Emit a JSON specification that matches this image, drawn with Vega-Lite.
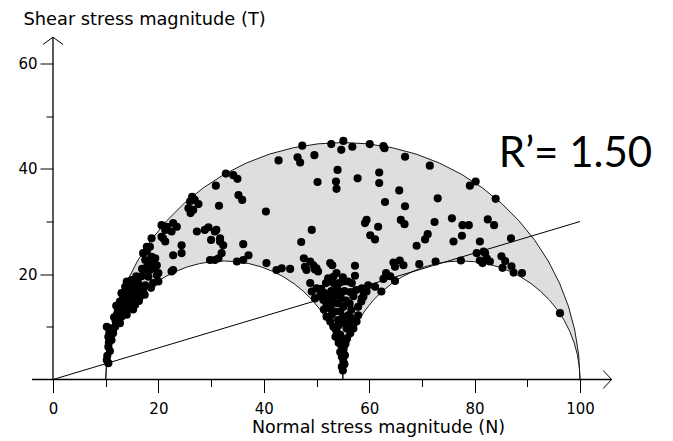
{
  "$schema": "https://vega.github.io/schema/vega-lite/v6.json",
  "width": 527,
  "height": 316,
  "autosize": {"type": "none"},
  "padding": {"left": 53, "top": 63.5, "right": 93, "bottom": 61.5},
  "background": "white",
  "config": {"view": {"stroke": null}},
  "datasets": {
    "bigc": [
      {"x": 100, "y": 0}, {"x": 99.75, "y": 4.70}, {"x": 99.01, "y": 9.36}, {"x": 97.80, "y": 13.91}, {"x": 96.11, "y": 18.30}, {"x": 93.97, "y": 22.50}, {"x": 91.41, "y": 26.45}, {"x": 88.44, "y": 30.11}, {"x": 85.11, "y": 33.44}, {"x": 81.45, "y": 36.41}, {"x": 77.50, "y": 38.97}, {"x": 73.30, "y": 41.11}, {"x": 68.91, "y": 42.80}, {"x": 64.36, "y": 44.01}, {"x": 59.70, "y": 44.75}, {"x": 55, "y": 45},
      {"x": 50.30, "y": 44.75}, {"x": 45.64, "y": 44.01}, {"x": 41.09, "y": 42.80}, {"x": 36.70, "y": 41.11}, {"x": 32.50, "y": 38.97}, {"x": 28.55, "y": 36.41}, {"x": 24.89, "y": 33.44}, {"x": 21.56, "y": 30.11}, {"x": 18.59, "y": 26.45}, {"x": 16.03, "y": 22.50}, {"x": 13.89, "y": 18.30}, {"x": 12.20, "y": 13.91}, {"x": 10.99, "y": 9.36}, {"x": 10.25, "y": 4.70}, {"x": 10, "y": 0}
    ],
    "smallc": [
      {"c": "L", "x": 55, "y": 0}, {"c": "L", "x": 54.88, "y": 2.35}, {"c": "L", "x": 54.51, "y": 4.68}, {"c": "L", "x": 53.90, "y": 6.95}, {"c": "L", "x": 53.05, "y": 9.15}, {"c": "L", "x": 51.99, "y": 11.25}, {"c": "L", "x": 50.70, "y": 13.23}, {"c": "L", "x": 49.22, "y": 15.06}, {"c": "L", "x": 47.56, "y": 16.72}, {"c": "L", "x": 45.73, "y": 18.20}, {"c": "L", "x": 43.75, "y": 19.49}, {"c": "L", "x": 41.65, "y": 20.55}, {"c": "L", "x": 39.45, "y": 21.40}, {"c": "L", "x": 37.18, "y": 22.01}, {"c": "L", "x": 34.85, "y": 22.38}, {"c": "L", "x": 32.5, "y": 22.5},
      {"c": "L", "x": 30.15, "y": 22.38}, {"c": "L", "x": 27.82, "y": 22.01}, {"c": "L", "x": 25.55, "y": 21.40}, {"c": "L", "x": 23.35, "y": 20.55}, {"c": "L", "x": 21.25, "y": 19.49}, {"c": "L", "x": 19.27, "y": 18.20}, {"c": "L", "x": 17.44, "y": 16.72}, {"c": "L", "x": 15.78, "y": 15.06}, {"c": "L", "x": 14.30, "y": 13.23}, {"c": "L", "x": 13.01, "y": 11.25}, {"c": "L", "x": 11.95, "y": 9.15}, {"c": "L", "x": 11.10, "y": 6.95}, {"c": "L", "x": 10.49, "y": 4.68}, {"c": "L", "x": 10.12, "y": 2.35}, {"c": "L", "x": 10, "y": 0},
      {"c": "R", "x": 100, "y": 0}, {"c": "R", "x": 99.88, "y": 2.35}, {"c": "R", "x": 99.51, "y": 4.68}, {"c": "R", "x": 98.90, "y": 6.95}, {"c": "R", "x": 98.05, "y": 9.15}, {"c": "R", "x": 96.99, "y": 11.25}, {"c": "R", "x": 95.70, "y": 13.23}, {"c": "R", "x": 94.22, "y": 15.06}, {"c": "R", "x": 92.56, "y": 16.72}, {"c": "R", "x": 90.73, "y": 18.20}, {"c": "R", "x": 88.75, "y": 19.49}, {"c": "R", "x": 86.65, "y": 20.55}, {"c": "R", "x": 84.45, "y": 21.40}, {"c": "R", "x": 82.18, "y": 22.01}, {"c": "R", "x": 79.85, "y": 22.38}, {"c": "R", "x": 77.5, "y": 22.5},
      {"c": "R", "x": 75.15, "y": 22.38}, {"c": "R", "x": 72.82, "y": 22.01}, {"c": "R", "x": 70.55, "y": 21.40}, {"c": "R", "x": 68.35, "y": 20.55}, {"c": "R", "x": 66.25, "y": 19.49}, {"c": "R", "x": 64.27, "y": 18.20}, {"c": "R", "x": 62.44, "y": 16.72}, {"c": "R", "x": 60.78, "y": 15.06}, {"c": "R", "x": 59.30, "y": 13.23}, {"c": "R", "x": 58.01, "y": 11.25}, {"c": "R", "x": 56.95, "y": 9.15}, {"c": "R", "x": 56.10, "y": 6.95}, {"c": "R", "x": 55.49, "y": 4.68}, {"c": "R", "x": 55.12, "y": 2.35}, {"c": "R", "x": 55, "y": 0}
    ],
    "seg": [{"x": 0, "y": 0}, {"x": 100, "y": 30}],
    "axes": [{"x": -4, "x2": 106, "y": 0, "y2": 0}, {"x": 0, "x2": 0, "y": 0, "y2": 65}],
    "yarrow": [{"x": 0, "y": 65}],
    "xarrow": [{"x": 106, "y": 0}],
    "lbl": [{"x": 84.6, "y": 40.4, "label": "R’= 1.50"}],
    "pts": [
      {"x":47.3,"y":44.4},{"x":52.8,"y":44.7},{"x":55.1,"y":45.3},{"x":54.7,"y":43.6},{"x":56.8,"y":44.2},{"x":42.8,"y":41.6},{"x":46.4,"y":42.2},{"x":46.9,"y":41.2},{"x":49.6,"y":42.6},{"x":54.0,"y":39.8},{"x":50.2,"y":37.5},{"x":53.7,"y":37.6},{"x":53.8,"y":36.2},{"x":32.8,"y":39.1},{"x":34.2,"y":38.8},{"x":35.0,"y":38.1},{"x":30.9,"y":36.8},{"x":35.2,"y":35.0},{"x":35.9,"y":34.1},{"x":31.5,"y":33.0},{"x":40.4,"y":31.9},{"x":26.4,"y":34.7},{"x":26.0,"y":33.8},{"x":27.6,"y":33.3},{"x":25.7,"y":32.5},{"x":26.1,"y":31.6},{"x":26.9,"y":34.1},{"x":26.6,"y":32.2},{"x":60.1,"y":44.7},{"x":62.7,"y":44.3},{"x":62.9,"y":43.9},{"x":66.8,"y":42.3},{"x":71.5,"y":40.6},{"x":79.1,"y":36.8},{"x":80.2,"y":37.6},{"x":84.0,"y":34.3},{"x":57.8,"y":38.2},{"x":61.9,"y":39.3},{"x":61.9,"y":37.3},{"x":65.7,"y":35.9},{"x":63.0,"y":33.7},{"x":66.8,"y":32.9},{"x":73.0,"y":34.4},
      {"x":49.1,"y":28.4},{"x":47.1,"y":26.1},{"x":36.1,"y":25.7},{"x":31.0,"y":28.4},{"x":31.7,"y":26.8},{"x":32.3,"y":25.5},{"x":59.5,"y":30.3},{"x":59.2,"y":29.7},{"x":61.7,"y":29.0},{"x":60.2,"y":27.4},{"x":61.1,"y":26.6},{"x":66.0,"y":30.3},{"x":66.7,"y":29.5},{"x":72.4,"y":29.9},{"x":71.1,"y":27.6},{"x":70.6,"y":26.6},{"x":75.7,"y":30.6},{"x":69.0,"y":25.4},{"x":76.0,"y":26.2},{"x":77.7,"y":29.3},{"x":78.9,"y":29.3},{"x":77.6,"y":27.3},{"x":82.5,"y":30.4},{"x":83.7,"y":29.3},{"x":81.0,"y":26.2},{"x":86.9,"y":26.8},
      {"x":64.6,"y":22.2},{"x":65.8,"y":22.6},{"x":66.5,"y":21.7},{"x":64.9,"y":21.4},{"x":69.5,"y":21.9},{"x":72.6,"y":22.4},{"x":77.4,"y":22.6},{"x":81.0,"y":22.6},{"x":82.0,"y":24.0},{"x":82.3,"y":23.0},{"x":82.9,"y":22.4},{"x":81.5,"y":22.1},{"x":80.4,"y":24.0},{"x":81.7,"y":24.3},{"x":85.1,"y":23.4},{"x":85.8,"y":22.5},{"x":85.3,"y":21.2},{"x":87.0,"y":21.5},{"x":87.4,"y":20.3},{"x":89.0,"y":20.2},{"x":96.2,"y":12.6},{"x":63.2,"y":20.2},{"x":64.0,"y":19.6},{"x":62.7,"y":19.1},{"x":64.9,"y":18.7},{"x":61.1,"y":17.6},{"x":62.3,"y":16.7},{"x":52.6,"y":22.1},{"x":58.9,"y":16.7},{"x":58.6,"y":15.4},
      {"x":47.6,"y":23.0},{"x":48.8,"y":22.4},{"x":47.8,"y":21.4},{"x":49.4,"y":21.7},{"x":50.0,"y":21.1},{"x":50.3,"y":20.5},{"x":45.0,"y":21.0},{"x":43.4,"y":21.1},{"x":53.0,"y":21.7},{"x":57.3,"y":21.6},{"x":52.2,"y":19.2},{"x":53.2,"y":18.3},{"x":51.8,"y":18.3},{"x":54.3,"y":18.3},{"x":55.0,"y":19.4},{"x":56.0,"y":18.6},{"x":57.3,"y":19.7},{"x":56.7,"y":18.3},{"x":48.8,"y":18.3},{"x":49.1,"y":16.7},{"x":50.0,"y":17.3},{"x":50.7,"y":16.0},{"x":49.7,"y":15.4},{"x":51.3,"y":15.1},{"x":51.9,"y":14.2},{"x":52.6,"y":13.5},{"x":53.2,"y":14.5},{"x":54.1,"y":14.5},{"x":53.5,"y":12.9},{"x":58.6,"y":17.3},{"x":58.9,"y":15.7},{"x":59.5,"y":16.7},{"x":59.8,"y":17.9},{"x":57.9,"y":12.2},{"x":57.6,"y":11.0},{"x":57.0,"y":9.7},{"x":56.4,"y":8.8},{"x":51.9,"y":11.9},{"x":52.6,"y":11.0},{"x":53.2,"y":10.0},{"x":53.8,"y":9.4},{"x":54.5,"y":8.5},{"x":55.4,"y":10.7},{"x":55.7,"y":9.7},{"x":54.8,"y":7.5},{"x":54.8,"y":6.2},{"x":55.1,"y":5.6},{"x":54.8,"y":4.3},{"x":55.1,"y":3.4},{"x":54.8,"y":2.4},{"x":55.0,"y":1.7},{"x":56.0,"y":12.2},{"x":56.6,"y":13.2},{"x":54.5,"y":12.9},{"x":55.1,"y":13.8},{"x":54.1,"y":11.3},{"x":57.9,"y":13.8},{"x":58.5,"y":14.8},{"x":53.8,"y":20.2},{"x":55.1,"y":18.6},{"x":48.1,"y":20.8},{"x":49.7,"y":20.9},{"x":53.2,"y":19.5},{"x":40.5,"y":22.1},{"x":42.4,"y":20.8},
      {"x":50.9,"y":17.2},{"x":51.5,"y":16.4},{"x":52.3,"y":15.6},{"x":52.9,"y":15.2},{"x":53.6,"y":15.9},{"x":54.6,"y":15.6},{"x":55.6,"y":15.0},{"x":56.3,"y":14.4},{"x":57.0,"y":15.8},{"x":57.5,"y":17.0},{"x":56.4,"y":16.6},{"x":55.3,"y":16.8},{"x":53.9,"y":17.2},{"x":52.8,"y":16.8},{"x":51.4,"y":13.3},{"x":55.0,"y":11.9},{"x":54.2,"y":10.3},{"x":56.4,"y":10.8},{"x":55.8,"y":7.8},{"x":54.2,"y":7.0},{"x":55.5,"y":6.8},{"x":54.5,"y":5.2},{"x":55.4,"y":4.6},{"x":55.3,"y":2.9},{"x":53.6,"y":8.1},{"x":56.5,"y":11.7},{"x":52.9,"y":12.3},{"x":53.9,"y":16.4},
      {"x":34.9,"y":22.4},{"x":36.1,"y":22.7},{"x":37.1,"y":23.6},{"x":29.8,"y":22.7},{"x":30.7,"y":22.7},{"x":31.4,"y":23.0},{"x":27.3,"y":28.1},{"x":29.5,"y":28.9},{"x":30.7,"y":28.1},{"x":30.0,"y":26.5},{"x":31.7,"y":26.2},{"x":32.0,"y":24.0},{"x":22.8,"y":23.6},{"x":24.4,"y":24.0},{"x":24.4,"y":25.5},{"x":22.5,"y":20.5},{"x":20.6,"y":29.3},{"x":21.6,"y":29.0},{"x":22.8,"y":29.7},{"x":23.5,"y":29.0},{"x":22.5,"y":28.1},{"x":20.9,"y":26.8},{"x":21.3,"y":28.4},{"x":28.8,"y":28.4},{"x":18.7,"y":26.8},{"x":20.6,"y":27.1},{"x":21.3,"y":26.2},{"x":17.8,"y":25.2},
      {"x":18.4,"y":25.2},{"x":17.8,"y":24.3},{"x":17.1,"y":24.0},{"x":17.5,"y":22.7},{"x":18.7,"y":23.3},{"x":19.0,"y":22.1},{"x":18.4,"y":20.8},{"x":19.4,"y":21.1},{"x":19.7,"y":19.8},{"x":20.0,"y":18.6},{"x":19.0,"y":18.3},{"x":18.1,"y":19.5},{"x":14.0,"y":18.6},{"x":15.2,"y":17.9},{"x":16.5,"y":17.6},{"x":17.1,"y":16.7},{"x":15.9,"y":16.7},{"x":14.9,"y":17.0},{"x":13.7,"y":17.6},{"x":19.4,"y":23.0},{"x":19.7,"y":21.7},{"x":22.8,"y":20.8},{"x":20.0,"y":20.2},{"x":14.9,"y":18.9},{"x":15.9,"y":18.3},{"x":16.8,"y":17.3},{"x":17.5,"y":17.9},{"x":16.2,"y":17.0},{"x":13.0,"y":16.4},{"x":14.3,"y":15.7},{"x":15.6,"y":16.0},{"x":16.5,"y":15.7},{"x":12.7,"y":14.8},{"x":13.7,"y":14.5},{"x":14.6,"y":14.5},{"x":12.4,"y":13.5},{"x":13.3,"y":13.2},{"x":14.3,"y":13.5},{"x":12.1,"y":12.3},{"x":13.0,"y":11.9},{"x":14.0,"y":12.3},{"x":12.1,"y":11.3},{"x":12.7,"y":10.7},{"x":11.8,"y":10.0},{"x":10.8,"y":9.7},{"x":11.4,"y":8.8},{"x":10.5,"y":8.1},{"x":11.1,"y":7.5},{"x":10.5,"y":6.2},{"x":10.2,"y":3.7},{"x":10.5,"y":3.1},{"x":10.2,"y":10.0},{"x":15.2,"y":15.1},{"x":15.6,"y":14.2},
      {"x":11.6,"y":11.8},{"x":12.3,"y":12.9},{"x":12.9,"y":13.9},{"x":13.5,"y":15.4},{"x":14.1,"y":16.5},{"x":13.2,"y":15.2},{"x":12.0,"y":14.0},{"x":14.6,"y":16.8},{"x":15.4,"y":17.5},{"x":16.1,"y":18.5},{"x":16.8,"y":19.6},{"x":17.3,"y":20.8},{"x":17.9,"y":21.6},{"x":18.2,"y":22.5},{"x":16.9,"y":21.0},{"x":15.8,"y":19.6},{"x":14.7,"y":14.0},{"x":13.6,"y":12.9},{"x":12.6,"y":12.2},{"x":11.9,"y":11.0},{"x":11.3,"y":9.3},{"x":11.0,"y":8.6},{"x":10.6,"y":7.0},{"x":10.8,"y":5.4},{"x":10.3,"y":4.5},{"x":10.7,"y":9.0},{"x":15.2,"y":13.3},{"x":16.3,"y":14.9},{"x":17.4,"y":16.1},{"x":18.6,"y":17.4}
    ]
  },
  "encoding": {
    "x": {
      "field": "x", "type": "quantitative",
      "scale": {"domain": [0, 100], "nice": false, "zero": false},
      "axis": {
        "values": [0, 10, 20, 30, 40, 50, 60, 70, 80, 90, 100],
        "domain": false, "grid": false,
        "tickColor": "#000", "tickWidth": 1,
        "tickSize": {"condition": {"test": "datum.value % 20 === 0", "value": 13}, "value": 7},
        "labelExpr": "datum.value % 20 === 0 ? datum.label : ''",
        "labelFont": "DejaVu Sans", "labelFontSize": 15, "labelColor": "#000",
        "labelPadding": 9, "labelFlush": false, "labelOverlap": false,
        "title": "Normal stress magnitude (N)",
        "titleFont": "DejaVu Sans", "titleFontSize": 17.5, "titleFontWeight": "normal", "titleColor": "#000",
        "titleX": 325, "titleY": 52.5, "titleAlign": "center", "titleBaseline": "alphabetic"
      }
    },
    "y": {
      "field": "y", "type": "quantitative", "stack": null,
      "scale": {"domain": [0, 60], "nice": false, "zero": false},
      "axis": {
        "values": [10, 20, 30, 40, 50, 60],
        "domain": false, "grid": false,
        "tickColor": "#000", "tickWidth": 1,
        "tickSize": {"condition": {"test": "datum.value % 20 === 0", "value": 13}, "value": 7},
        "labelExpr": "datum.value % 20 === 0 ? datum.label : ''",
        "labelFont": "DejaVu Sans", "labelFontSize": 15, "labelColor": "#000",
        "labelPadding": 3, "labelFlush": false, "labelOverlap": false,
        "title": "Shear stress magnitude (T)",
        "titleFont": "DejaVu Sans", "titleFontSize": 17.8, "titleFontWeight": "normal", "titleColor": "#000",
        "titleAngle": 0, "titleX": -30, "titleY": -39.5, "titleAlign": "left", "titleBaseline": "alphabetic"
      }
    }
  },
  "layer": [
    {"data": {"name": "bigc"}, "mark": {"type": "area", "color": "#dedede", "opacity": 1}, "encoding": {}},
    {"data": {"name": "smallc"}, "mark": {"type": "area", "color": "#ffffff", "opacity": 1}, "encoding": {"detail": {"field": "c"}}},
    {"data": {"name": "bigc"}, "mark": {"type": "line", "color": "#1a1a1a", "strokeWidth": 1}, "encoding": {}},
    {"data": {"name": "smallc"}, "mark": {"type": "line", "color": "#1a1a1a", "strokeWidth": 1}, "encoding": {"detail": {"field": "c"}}},
    {"data": {"name": "seg"}, "mark": {"type": "line", "color": "#000", "strokeWidth": 1}, "encoding": {}},
    {"data": {"name": "axes"}, "mark": {"type": "rule", "color": "#000", "strokeWidth": 1.3}, "encoding": {"x2": {"field": "x2"}, "y2": {"field": "y2"}}},
    {"data": {"name": "yarrow"}, "mark": {"type": "point", "shape": "M-1,0.73L0,0L1,0.73", "size": 400, "filled": false, "stroke": "#000", "strokeWidth": 1, "opacity": 1}, "encoding": {}},
    {"data": {"name": "xarrow"}, "mark": {"type": "point", "shape": "M-0.84,-0.9L0,0L-0.84,0.9", "size": 400, "filled": false, "stroke": "#000", "strokeWidth": 1, "opacity": 1}, "encoding": {}},
    {"data": {"name": "pts"}, "mark": {"type": "circle", "size": 66, "color": "#000", "opacity": 1}, "encoding": {}},
    {"data": {"name": "lbl"}, "mark": {"type": "text", "font": "Lato", "fontSize": 42, "align": "left", "baseline": "alphabetic", "color": "#000"}, "encoding": {"text": {"field": "label"}}}
  ]
}
